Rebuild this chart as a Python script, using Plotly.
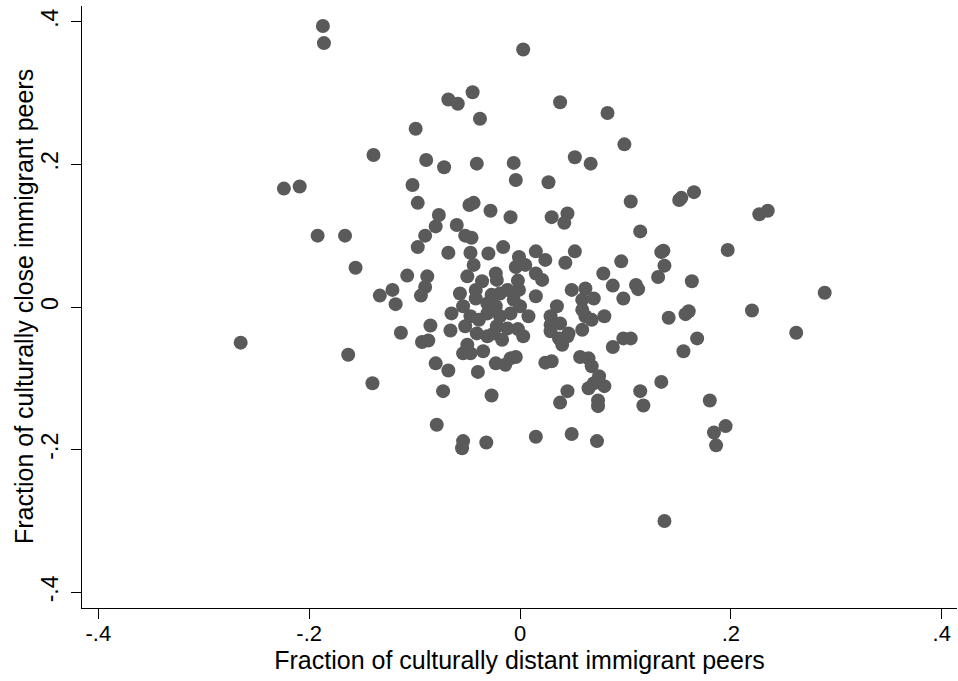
import plotly.graph_objects as go

# Fraction of culturally distant immigrant peers (x) and culturally close peers (y)
distant = [
    -0.187, -0.186, 0.003, -0.068, -0.059, -0.045, 0.038, -0.038, -0.099, -0.139,
    -0.089, -0.072, -0.041, -0.006, -0.004, 0.027, -0.224, -0.209, -0.102, -0.097,
    -0.048, -0.044, -0.028, -0.077, -0.009, 0.030, 0.083, 0.099, 0.052, 0.067,
    0.105, 0.151, 0.153, 0.165, 0.045, 0.227, 0.235, 0.042, -0.192, -0.166,
    -0.156, -0.097, -0.090, -0.080, -0.107, -0.088, -0.090, -0.121, -0.133, -0.118,
    -0.094, -0.265, -0.113, -0.085, -0.093, -0.087, -0.163, -0.140, 0.114, 0.136,
    0.134, 0.197, 0.096, 0.137, 0.131, 0.163, 0.088, 0.110, 0.112, 0.098,
    0.289, 0.220, 0.080, 0.141, 0.157, 0.160, 0.262, 0.098, 0.105, 0.088,
    0.168, 0.155, 0.080, 0.134, 0.114, 0.117, 0.180, 0.195, 0.184, 0.186,
    0.137, -0.060, -0.052, -0.046, -0.068, -0.047, -0.030, -0.016, -0.001, -0.044,
    -0.050, -0.036, -0.023, -0.022, -0.004, -0.002, -0.057, -0.042, -0.042, -0.027,
    -0.019, -0.012, -0.006, -0.054, -0.065, -0.031, -0.023, -0.031, -0.047, -0.039,
    -0.019, -0.009, -0.066, -0.052, -0.022, -0.012, -0.002, 0.015, 0.024, 0.005,
    0.052, 0.043, 0.079, 0.015, 0.021, -0.001, 0.015, 0.049, 0.062, 0.059,
    0.070, 0.000, 0.008, 0.035, 0.029, 0.059, 0.062, 0.068, 0.029, 0.038,
    0.059, 0.046, -0.050, -0.054, -0.047, -0.035, -0.041, -0.031, -0.025, -0.017,
    -0.023, -0.014, -0.009, -0.004, -0.080, -0.068, -0.040, -0.073, -0.027, -0.079,
    -0.054, -0.055, -0.032, 0.003, 0.029, 0.037, 0.045, 0.040, 0.024, 0.030,
    0.057, 0.065, 0.068, 0.075, 0.070, 0.065, 0.045, 0.038, 0.074, 0.074,
    0.015, 0.049, 0.073,
]
close = [
    0.394, 0.370, 0.361, 0.291, 0.285, 0.301, 0.287, 0.264, 0.250, 0.213,
    0.206, 0.196, 0.201, 0.202, 0.178, 0.175, 0.166, 0.169, 0.171, 0.146,
    0.143, 0.146, 0.135, 0.129, 0.126, 0.126, 0.272, 0.228, 0.210, 0.201,
    0.148, 0.150, 0.153, 0.161, 0.131, 0.130, 0.135, 0.118, 0.100, 0.100,
    0.055, 0.084, 0.100, 0.113, 0.044, 0.043, 0.028, 0.024, 0.016, 0.004,
    0.016, -0.050, -0.036, -0.026, -0.049, -0.047, -0.067, -0.107, 0.106, 0.079,
    0.077, 0.080, 0.064, 0.058, 0.042, 0.036, 0.030, 0.031, 0.025, 0.012,
    0.020, -0.005, -0.013, -0.015, -0.010, -0.006, -0.036, -0.044, -0.044, -0.056,
    -0.044, -0.062, -0.111, -0.105, -0.118, -0.138, -0.131, -0.167, -0.176, -0.194,
    -0.300, 0.115, 0.100, 0.097, 0.076, 0.076, 0.075, 0.084, 0.070, 0.059,
    0.043, 0.036, 0.047, 0.038, 0.056, 0.037, 0.019, 0.024, 0.012, 0.017,
    0.019, 0.024, 0.010, 0.001, -0.009, 0.005, 0.001, -0.009, -0.013, -0.018,
    -0.013, -0.009, -0.033, -0.027, -0.027, -0.030, -0.031, 0.078, 0.066, 0.059,
    0.078, 0.062, 0.047, 0.047, 0.038, 0.024, 0.015, 0.024, 0.026, 0.010,
    0.012, 0.001, -0.013, 0.001, -0.013, -0.004, -0.013, -0.018, -0.025, -0.023,
    -0.032, -0.037, -0.053, -0.065, -0.065, -0.062, -0.037, -0.041, -0.037, -0.046,
    -0.079, -0.081, -0.072, -0.070, -0.079, -0.089, -0.091, -0.118, -0.124, -0.165,
    -0.188, -0.198, -0.190, -0.041, -0.034, -0.044, -0.041, -0.053, -0.078, -0.076,
    -0.070, -0.072, -0.083, -0.097, -0.107, -0.114, -0.118, -0.134, -0.131, -0.139,
    -0.182, -0.178, -0.188,
]

tick_vals = [-0.4, -0.2, 0, 0.2, 0.4]
tick_text = ["-.4", "-.2", "0", ".2", ".4"]
x_title = "Fraction of culturally distant immigrant peers"
y_title = "Fraction of culturally close immigrant peers"

FONT = "Arial, Liberation Sans, sans-serif"

fig = go.Figure(
    go.Scatter(
        x=distant, y=close, mode="markers",
        marker=dict(size=14, color="#5a5a5a", line=dict(width=0)),
        hoverinfo="x+y",
    )
)

axis_common = dict(
    showgrid=False, zeroline=False, showline=True, linecolor="black", linewidth=1.3,
    ticks="outside", ticklen=10, tickwidth=1.3, tickcolor="black",
    tickvals=tick_vals, ticktext=tick_text,
)

fig.update_layout(
    width=958, height=681,
    margin=dict(l=82, r=1, t=6, b=73),
    paper_bgcolor="white", plot_bgcolor="white",
    showlegend=False,
    font=dict(family=FONT, color="black"),
    xaxis=dict(range=[-0.4155, 0.4145], ticklabelstandoff=-5,
               tickfont=dict(family=FONT, size=22, color="black"),
               title=dict(text=x_title, font=dict(family=FONT, size=25, color="black"), standoff=0),
               **axis_common),
    yaxis=dict(range=[-0.422, 0.422], tickangle=-90, ticklabelstandoff=4,
               tickfont=dict(family=FONT, size=23, color="black"),
               **axis_common),
)

# y-axis title placed as a rotated annotation to the left of the tick labels
fig.add_annotation(
    text=y_title, textangle=-90, showarrow=False,
    xref="paper", yref="paper", x=0, y=0.5,
    xanchor="center", yanchor="middle", xshift=-58,
    font=dict(family=FONT, size=25, color="black"),
)

fig.write_html("out.html", config={"displayModeBar": False},
               post_script="document.body.style.margin='0';")
